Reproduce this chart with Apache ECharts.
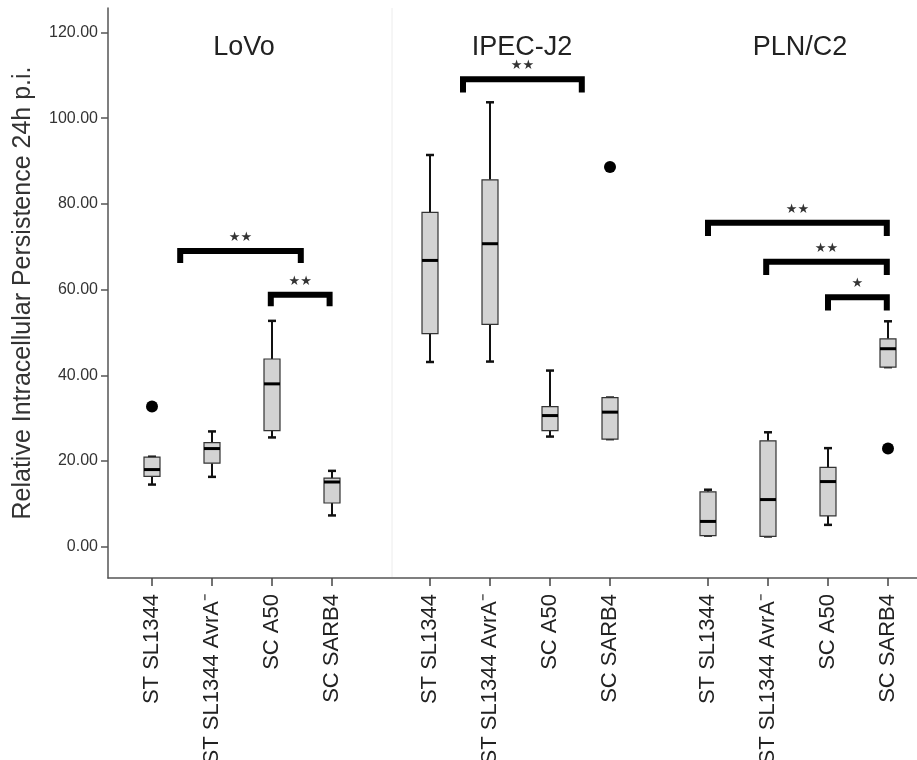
<!DOCTYPE html>
<html>
<head>
<meta charset="utf-8">
<script src="https://cdn.jsdelivr.net/npm/echarts@6/dist/echarts.min.js"></script>
<style>
  html, body { margin: 0; padding: 0; background: #fff; }
  #chart { width: 917px; height: 760px; }
</style>
</head>
<body>
<div id="chart"></div>
<script>
// Cell lines (one panel each) and the strains compared inside every panel
const panels = ['LoVo', 'IPEC-J2', 'PLN/C2'];
const strains = ['ST SL1344', 'ST SL1344 AvrA\u207B', 'SC A50', 'SC SARB4'];

// Box statistics per strain: [min, Q1, median, Q3, max]
const lovoBoxes = [
  [14.5, 16.4, 18.0, 20.9, 21.0],
  [16.3, 19.5, 22.9, 24.3, 26.9],
  [25.5, 27.1, 38.0, 43.8, 52.7],
  [7.3, 10.2, 15.1, 16.0, 17.7]
];
const ipecBoxes = [
  [43.1, 49.7, 66.8, 78.0, 91.4],
  [43.2, 51.9, 70.7, 85.6, 103.7],
  [25.7, 27.1, 30.6, 32.7, 41.1],
  [25.1, 25.1, 31.4, 34.8, 34.8]
];
const plnBoxes = [
  [2.6, 2.6, 5.9, 12.8, 13.3],
  [2.4, 2.4, 11.0, 24.7, 26.7],
  [5.1, 7.2, 15.2, 18.5, 23.0],
  [41.9, 41.9, 46.2, 48.5, 52.6]
];

// Outliers: [strain index, value]
const lovoOutliers = [[0, 32.7]];
const ipecOutliers = [[3, 88.6]];
const plnOutliers = [[3, 22.9]];

// Significance brackets: [from strain, to strain, bar level, leg end, stars]
const lovoBrackets = [
  [0.47, 2.48, 69.0, 66.2, '\u2605\u2605'],
  [1.98, 2.96, 58.8, 56.1, '\u2605\u2605']
];
const ipecBrackets = [
  [0.55, 2.53, 109.1, 106.0, '\u2605\u2605']
];
const plnBrackets = [
  [0.0, 2.98, 75.6, 72.5, '\u2605\u2605'],
  [0.97, 2.98, 66.5, 63.4, '\u2605\u2605'],
  [2.0, 2.98, 58.2, 55.1, '\u2605']
];

// Y axis ticks
const yTicks = [0, 20, 40, 60, 80, 100, 120];

const Y_MIN = -7.3, Y_MAX = 125.7;
const FONT = 'Liberation Sans, Arial, Helvetica, sans-serif';

const panelBoxes = [lovoBoxes, ipecBoxes, plnBoxes];
const panelOutliers = [lovoOutliers, ipecOutliers, plnOutliers];
const panelBrackets = [lovoBrackets, ipecBrackets, plnBrackets];
const panelLeft = [122, 400, 678];
const PANEL_W = 240;

function renderBox(params, api) {
  const i = api.value(0);
  const mn = api.value(1), q1 = api.value(2), md = api.value(3), q3 = api.value(4), mx = api.value(5);
  const xc = api.coord([i, md])[0];
  const py = v => api.coord([i, v])[1];
  const half = 8, cap = 4;
  const children = [];
  const stroke = { stroke: '#111', lineWidth: 2 };
  if (mx > q3) {
    children.push({ type: 'line', shape: { x1: xc, y1: py(mx), x2: xc, y2: py(q3) }, style: stroke });
  }
  if (mn < q1) {
    children.push({ type: 'line', shape: { x1: xc, y1: py(q1), x2: xc, y2: py(mn) }, style: stroke });
  }
  children.push({ type: 'line', shape: { x1: xc - cap, y1: py(mx), x2: xc + cap, y2: py(mx) }, style: { stroke: '#111', lineWidth: 2.5 } });
  children.push({ type: 'line', shape: { x1: xc - cap, y1: py(mn), x2: xc + cap, y2: py(mn) }, style: { stroke: '#111', lineWidth: 2.5 } });
  children.push({
    type: 'rect',
    shape: { x: xc - half, y: py(q3), width: half * 2, height: py(q1) - py(q3) },
    style: { fill: '#d3d3d3', stroke: '#333', lineWidth: 1.2 }
  });
  children.push({ type: 'line', shape: { x1: xc - half, y1: py(md), x2: xc + half, y2: py(md) }, style: { stroke: '#000', lineWidth: 3 } });
  return { type: 'group', children };
}

function renderBracket(params, api) {
  const top = api.value(1), from = api.value(2), to = api.value(3), leg = api.value(4);
  const base = api.coord([0, top]);
  const band = api.size([1, 0])[0];
  const x1 = base[0] + from * band;
  const x2 = base[0] + to * band;
  const yTop = base[1];
  const yLeg = api.coord([0, leg])[1];
  return {
    type: 'group',
    children: [
      {
        type: 'polyline',
        shape: { points: [[x1, yLeg], [x1, yTop], [x2, yTop], [x2, yLeg]] },
        style: { stroke: '#000', lineWidth: 6, fill: null, lineJoin: 'miter', lineCap: 'butt' }
      },
      {
        type: 'text',
        x: (x1 + x2) / 2,
        y: yTop - 7,
        style: {
          text: api.value(5),
          fontSize: 13,
          fontFamily: 'DejaVu Sans, sans-serif',
          fill: '#333',
          align: 'center',
          verticalAlign: 'bottom'
        }
      }
    ]
  };
}

const grids = [{ left: 108, right: 0, top: 8, bottom: 182, outerBoundsMode: 'none', containLabel: false }];
const xAxes = [{
  gridIndex: 0, type: 'value', min: 0, max: 1, position: 'bottom',
  axisLine: { show: true, onZero: false, lineStyle: { color: '#555', width: 1.5 } },
  axisTick: { show: false }, axisLabel: { show: false }, splitLine: { show: false }
}];
const yAxes = [{
  gridIndex: 0, type: 'value', min: Y_MIN, max: Y_MAX,
  axisLine: { show: true, onZero: false, lineStyle: { color: '#555', width: 1.5 } },
  axisTick: { show: true, customValues: yTicks, length: 7, lineStyle: { color: '#555', width: 1.5 } },
  axisLabel: {
    show: true, customValues: yTicks, formatter: v => Number(v).toFixed(2),
    fontSize: 16, color: '#333', fontFamily: FONT, margin: 10
  },
  splitLine: { show: false },
  name: 'Relative Intracellular Persistence 24h p.i.',
  nameLocation: 'middle', nameRotate: 90, nameGap: 72,
  nameTextStyle: { fontSize: 25, color: '#333', fontFamily: FONT }
}];
const series = [];

panels.forEach((p, k) => {
  const g = k + 1;
  grids.push({ left: panelLeft[k], width: PANEL_W, top: 8, bottom: 182, outerBoundsMode: 'none', containLabel: false });
  xAxes.push({
    gridIndex: g, type: 'category', data: strains, boundaryGap: true, position: 'bottom',
    axisLine: { show: false, onZero: false },
    axisTick: { show: true, alignWithLabel: true, length: 8, lineStyle: { color: '#444', width: 1.5 } },
    axisLabel: { rotate: 90, interval: 0, fontSize: 22, color: '#222', fontFamily: FONT, margin: 16 },
    splitLine: { show: false }
  });
  yAxes.push({ gridIndex: g, type: 'value', min: Y_MIN, max: Y_MAX, show: false });

  series.push({
    type: 'custom', xAxisIndex: g, yAxisIndex: g,
    renderItem: renderBox,
    encode: { x: 0, y: [1, 2, 3, 4, 5] },
    data: panelBoxes[k].map((b, i) => [i].concat(b)),
    silent: true, z: 2
  });
  series.push({
    type: 'scatter', xAxisIndex: g, yAxisIndex: g,
    data: panelOutliers[k], symbol: 'circle', symbolSize: 12,
    itemStyle: { color: '#000', opacity: 1 }, silent: true, z: 3
  });
  series.push({
    type: 'custom', xAxisIndex: g, yAxisIndex: g,
    renderItem: renderBracket,
    encode: { x: 0, y: 1 },
    data: panelBrackets[k].map(b => [0, b[2], b[0], b[1], b[3], b[4]]),
    silent: true, z: 4
  });
});

const option = {
  animation: false,
  backgroundColor: '#fff',
  grid: grids,
  xAxis: xAxes,
  yAxis: yAxes,
  series: series,
  graphic: [
    { type: 'line', shape: { x1: 392, y1: 8, x2: 392, y2: 577 }, style: { stroke: '#ececec', lineWidth: 1 }, z: 0 },
    ...panels.map((p, k) => ({
      type: 'text',
      x: panelLeft[k] + PANEL_W / 2 + 2,
      y: 48,
      style: { text: p, fontSize: 27, fontFamily: FONT, fill: '#222', align: 'center', verticalAlign: 'middle' }
    }))
  ]
};

const chart = echarts.init(document.getElementById('chart'), null, { renderer: 'canvas' });
chart.setOption(option);
</script>
</body>
</html>
